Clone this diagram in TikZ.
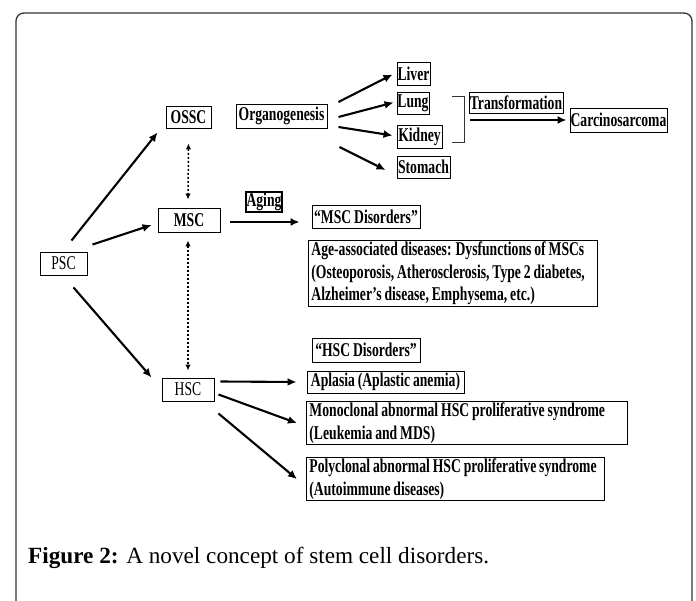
\documentclass[tikz,border=0pt]{standalone}
\usepackage{fontspec}
\setmainfont{Liberation Serif}
\newfontfamily\dg[FakeStretch=0.70, WordSpace=0.85,
  BoldFeatures={FakeStretch=0.70, WordSpace=0.85}]{Liberation Serif}
\usetikzlibrary{arrows.meta,calc}
\begin{document}
\begin{tikzpicture}[x=1pt,y=-1pt,
  box/.style={draw=black, line width=0.9pt, inner sep=0pt,
    font=\dg\fontsize{19.5}{22.5}\selectfont\bfseries},
  rbox/.style={box, font=\dg\fontsize{19.5}{22.5}\selectfont},
  tbox/.style={box, anchor=north west, align=flush left, inner xsep=3pt, inner ysep=1.5pt},
  arr/.style={line width=2.1pt, -{Latex[length=9pt,width=8pt]}},
  darr/.style={line width=1.5pt, dash pattern=on 2pt off 2pt,
    {Latex[length=6pt,width=5.5pt]}-{Latex[length=6pt,width=5.5pt]}}]
\useasboundingbox (0,0) rectangle (696,601);
\draw[line width=1.3pt, draw=black!80, rounded corners=8pt]
  (16,601) -- (16,13) -- (692,13) -- (692,601);

% nodes
\node[rbox, minimum width=47pt, minimum height=23pt] (psc) at (63.5,263.5) {PSC};
\node[box, minimum width=45pt, minimum height=22pt] (ossc) at (188.5,117) {OSSC};
\node[box, minimum width=62pt, minimum height=24pt] (msc) at (189,220) {MSC};
\node[rbox, minimum width=52pt, minimum height=23pt] (hsc) at (188,389.5) {HSC};
\node[box, minimum width=91pt, minimum height=24pt] (org) at (281.5,116) {Organogenesis};
\node[box, minimum width=33pt, minimum height=23pt] (liver) at (413.5,73.5) {Liver};
\node[box, minimum width=32pt, minimum height=22pt] (lung) at (413,103.5) {Lung};
\node[box, minimum width=45pt, minimum height=23pt] (kidney) at (419.5,136.5) {Kidney};
\node[box, minimum width=53pt, minimum height=22pt] (stomach) at (423.5,167) {Stomach};
\node[box, minimum width=94pt, minimum height=21pt] (trans) at (516,102.5) {Transformation};
\node[box, minimum width=97pt, minimum height=24pt] (carc) at (618.5,120) {Carcinosarcoma};
\node[box, line width=1.3pt, minimum width=36pt, minimum height=20pt] (aging) at (264,202) {Aging};
\node[box, minimum width=108pt, minimum height=23pt] (mscd) at (366,216.5) {“MSC Disorders”};
\node[tbox, text width=283pt] (age) at (308,240)
  {Age-associated diseases: Dysfunctions of MSCs\\
   (Osteoporosis, Atherosclerosis, Type 2 diabetes,\\
   Alzheimer’s disease, Emphysema, etc.)};
\node[box, minimum width=108pt, minimum height=24pt] (hscd) at (366,350) {“HSC Disorders”};
\node[box, minimum width=157pt, minimum height=22pt] (aplasia) at (385.5,382) {Aplasia (Aplastic anemia)};
\node[tbox, text width=315pt] (mono) at (306,401)
  {Monoclonal abnormal HSC proliferative syndrome\\ (Leukemia and MDS)};
\node[tbox, text width=292pt] (poly) at (306,457)
  {Polyclonal abnormal HSC proliferative syndrome\\ (Autoimmune diseases)};

% bracket
\draw[line width=1pt, black!80] (452,97) -- (464,97) -- (464,143) -- (452,143);
\coordinate (brk) at (470,120);

% connectors
\draw[arr] ($(psc.north)+(8,-11)$) -- ($(ossc.south west)+(-8,4)$);
\draw[arr] ($(psc.north east)+(5,-7)$) -- ($(msc.west)+(-6,5)$);
\draw[arr] ($(psc.south)+(10,12)$) -- ($(hsc.west)+(-10,-12)$);
\draw[darr] ($(ossc.south)+(0,15)$) -- ($(msc.north)+(-1,-8)$);
\draw[darr] ($(msc.south)+(-1,8)$) -- ($(hsc.north)+(0,-7)$);
\draw[arr] ($(org.east)+(11,-14)$) -- ($(liver.west)+(-4,1)$);
\draw[arr] ($(org.east)+(11,1)$) -- ($(lung.west)+(-3,-1)$);
\draw[arr] ($(org.east)+(11,11)$) -- ($(kidney.west)+(-4,-1)$);
\draw[arr] ($(org.east)+(12,31)$) -- ($(stomach.west)+(-11,3)$);
\draw[arr] (brk) -- ($(carc.west)+(-3,0)$);
\draw[arr] ($(msc.east)+(10,2)$) -- ($(msc.east -| mscd.west)+(-12,2)$);
\draw[arr] ($(hsc.east)+(6,-8)$) -- ($(aplasia.west)+(-10,0)$);
\draw[arr] ($(hsc.east)+(4,5)$) -- ($(mono.west)+(-9,0)$);
\draw[arr] ($(hsc.east)+(4,24)$) -- ($(poly.west)+(-9,0)$);

% caption
\node[anchor=base west, inner sep=0pt, font=\fontsize{23.2}{27}\selectfont] (cap) at (28,563)
  {\textbf{Figure 2:} A novel concept of stem cell disorders.};
\end{tikzpicture}
\end{document}
